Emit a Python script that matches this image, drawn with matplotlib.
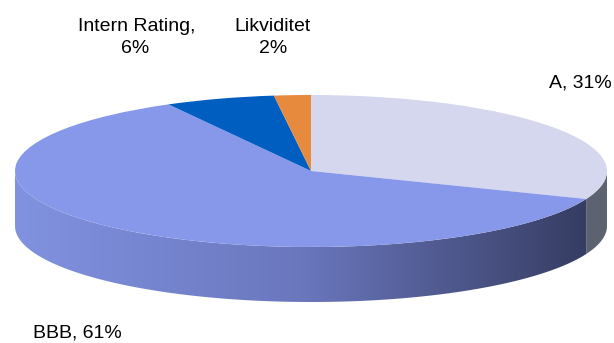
import numpy as np
import matplotlib.pyplot as plt
from matplotlib.transforms import Affine2D
from matplotlib.patches import Polygon
from matplotlib.colors import LinearSegmentedColormap

categories = ['A', 'BBB', 'Intern Rating', 'Likviditet']
values = [31, 61, 6, 2]
top_colors = ['#d4d7ee', '#8797ea', '#015ec1', '#e88a3d']
side_colors = ['#5d6270', '#6570b6', '#01408a', '#a8612a']

# perspective of the fake 3D pie (in units of the radius)
tilt = 76 / 296
depth = 55 / 296

plt.rcParams['font.family'] = ['Liberation Sans', 'DejaVu Sans']

fig = plt.figure(figsize=(6.14, 3.43), dpi=100)
ax = fig.add_axes([0, 0, 1, 1])

# top face: normal pie squashed vertically
wedges, _ = ax.pie(values, colors=top_colors, startangle=90, counterclock=False,
                   wedgeprops=dict(linewidth=0))
squash = Affine2D().scale(1, tilt) + ax.transData
for w in wedges:
    w.set_transform(squash)
    w.set_zorder(3)

# side walls, only the front half (angles -180..0) is visible
fracs = np.array(values) / sum(values)
edges = 90 - 360 * np.concatenate([[0], np.cumsum(fracs)])
bbb_grad = LinearSegmentedColormap.from_list('bbb', ['#8192e0', '#6a77bd', '#363d62'])

for i in range(len(values)):
    lo = max(edges[i + 1], -180)
    hi = min(edges[i], 0)
    if hi <= lo:
        continue
    t = np.radians(np.linspace(lo, hi, 200))
    xs = np.cos(t)
    ys = tilt * np.sin(t)
    verts = np.column_stack([np.r_[xs, xs[::-1]], np.r_[ys, ys[::-1] - depth]])
    if categories[i] == 'BBB':
        poly = Polygon(verts, closed=True, facecolor='none', edgecolor='none')
        ax.add_patch(poly)
        grad = np.linspace(0, 1, 256).reshape(1, -1)
        im = ax.imshow(grad, extent=[xs.min(), xs.max(), ys.min() - depth, 0],
                       aspect='auto', cmap=bbb_grad, zorder=2)
        im.set_clip_path(poly)
    else:
        ax.add_patch(Polygon(verts, closed=True, facecolor=side_colors[i],
                             edgecolor='none', zorder=2))

ax.set_xlim(-311 / 296, 303 / 296)
ax.set_ylim(-172 / 296, 171 / 296)
ax.set_aspect('auto')
ax.axis('off')

# labels, one text per line, placed by baseline (pixel positions)
fs = 14
def label(x, y, s):
    fig.text(x / 614, 1 - y / 343, s, ha='center', va='baseline', fontsize=fs)

label(137, 31, 'Intern Rating,')
label(135, 53, '6%')
label(273, 31, 'Likviditet')
label(273, 53, '2%')
label(580, 88, 'A, 31%')
label(77, 338, 'BBB, 61%')

fig.savefig('out.png', dpi=100)
